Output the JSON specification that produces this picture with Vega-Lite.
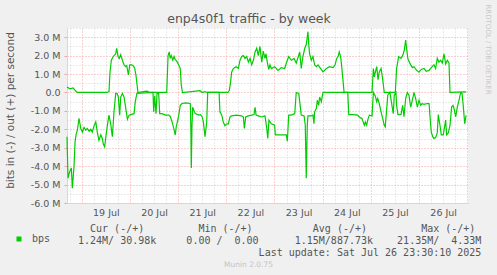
{
"$schema": "https://vega.github.io/schema/vega-lite/v6.json",
"width": 401, "height": 175,
"autosize": {"type": "none"},
"padding": {"left": 67, "top": 28, "right": 29, "bottom": 72},
"background": "#F0F0F0",
"config": {"view": {"fill": "#FFFFFF", "stroke": null}, "font": "DejaVu Sans"},
"title": {"text": "enp4s0f1 traffic - by week", "frame": "group", "anchor": "middle", "dx": -18.5, "font": "DejaVu Sans", "fontSize": 12.5, "fontWeight": "normal", "color": "#555555", "baseline": "alphabetic", "offset": -32},
"datasets": {
"out": [
{"time":"2025-07-18T16:40:00Z","value":0.3},{"time":"2025-07-18T18:10:00Z","value":0.2},{"time":"2025-07-18T19:40:00Z","value":0.25},{"time":"2025-07-18T21:40:00Z","value":0},
{"time":"2025-07-19T12:35:00Z","value":0},{"time":"2025-07-19T13:35:00Z","value":0.05},{"time":"2025-07-19T14:05:00Z","value":1.1},{"time":"2025-07-19T14:45:00Z","value":1.75},{"time":"2025-07-19T15:25:00Z","value":1.9},{"time":"2025-07-19T16:05:00Z","value":2.0},{"time":"2025-07-19T16:55:00Z","value":2.1},{"time":"2025-07-19T17:25:00Z","value":2.4},{"time":"2025-07-19T18:05:00Z","value":1.95},{"time":"2025-07-19T18:45:00Z","value":1.85},{"time":"2025-07-19T19:25:00Z","value":2.05},{"time":"2025-07-19T20:15:00Z","value":1.75},{"time":"2025-07-19T21:05:00Z","value":1.5},{"time":"2025-07-19T21:55:00Z","value":1.4},{"time":"2025-07-19T22:25:00Z","value":1.45},{"time":"2025-07-19T23:15:00Z","value":0.95},{"time":"2025-07-19T23:55:00Z","value":1.5},
{"time":"2025-07-20T00:55:00Z","value":1.5},{"time":"2025-07-20T01:40:00Z","value":1.45},{"time":"2025-07-20T02:25:00Z","value":1.3},{"time":"2025-07-20T03:00:00Z","value":0.95},{"time":"2025-07-20T04:00:00Z","value":0},{"time":"2025-07-20T06:30:00Z","value":0.05},{"time":"2025-07-20T08:30:00Z","value":0.07},{"time":"2025-07-20T10:00:00Z","value":0},{"time":"2025-07-20T18:20:00Z","value":0},{"time":"2025-07-20T19:00:00Z","value":2.0},{"time":"2025-07-20T19:35:00Z","value":2.2},{"time":"2025-07-20T20:05:00Z","value":1.85},{"time":"2025-07-20T20:35:00Z","value":2.0},{"time":"2025-07-20T21:20:00Z","value":1.75},{"time":"2025-07-20T22:00:00Z","value":1.95},{"time":"2025-07-20T22:30:00Z","value":1.8},{"time":"2025-07-20T23:20:00Z","value":1.7},
{"time":"2025-07-21T00:15:00Z","value":1.5},{"time":"2025-07-21T01:05:00Z","value":1.3},{"time":"2025-07-21T01:35:00Z","value":0.4},{"time":"2025-07-21T02:10:00Z","value":0},{"time":"2025-07-21T10:55:00Z","value":0.1},{"time":"2025-07-21T11:55:00Z","value":0},{"time":"2025-07-21T13:25:00Z","value":0.05},{"time":"2025-07-21T14:25:00Z","value":0},
{"time":"2025-07-22T00:50:00Z","value":0},{"time":"2025-07-22T01:30:00Z","value":0.1},{"time":"2025-07-22T02:10:00Z","value":0.6},{"time":"2025-07-22T02:40:00Z","value":1.1},{"time":"2025-07-22T03:30:00Z","value":1.3},{"time":"2025-07-22T04:50:00Z","value":1.4},{"time":"2025-07-22T06:00:00Z","value":1.3},{"time":"2025-07-22T06:50:00Z","value":1.75},{"time":"2025-07-22T07:40:00Z","value":1.95},{"time":"2025-07-22T08:30:00Z","value":2.0},{"time":"2025-07-22T09:20:00Z","value":1.85},{"time":"2025-07-22T10:10:00Z","value":1.95},{"time":"2025-07-22T11:00:00Z","value":1.65},{"time":"2025-07-22T11:50:00Z","value":1.85},{"time":"2025-07-22T12:40:00Z","value":1.5},{"time":"2025-07-22T13:30:00Z","value":1.75},{"time":"2025-07-22T14:20:00Z","value":2.2},{"time":"2025-07-22T15:10:00Z","value":2.4},{"time":"2025-07-22T15:55:00Z","value":2.0},{"time":"2025-07-22T16:45:00Z","value":2.5},{"time":"2025-07-22T17:40:00Z","value":1.65},{"time":"2025-07-22T18:25:00Z","value":2.25},{"time":"2025-07-22T19:15:00Z","value":1.85},{"time":"2025-07-22T19:45:00Z","value":2.1},{"time":"2025-07-22T20:40:00Z","value":1.5},{"time":"2025-07-22T21:10:00Z","value":1.25},{"time":"2025-07-22T21:45:00Z","value":1.5},{"time":"2025-07-22T22:25:00Z","value":1.3},
{"time":"2025-07-23T00:05:00Z","value":1.4},{"time":"2025-07-23T01:45:00Z","value":1.2},{"time":"2025-07-23T03:25:00Z","value":1.35},{"time":"2025-07-23T05:05:00Z","value":1.3},{"time":"2025-07-23T05:55:00Z","value":1.6},{"time":"2025-07-23T07:05:00Z","value":1.95},{"time":"2025-07-23T08:25:00Z","value":1.75},{"time":"2025-07-23T09:45:00Z","value":1.85},{"time":"2025-07-23T10:50:00Z","value":1.6},{"time":"2025-07-23T12:35:00Z","value":2.2},{"time":"2025-07-23T13:20:00Z","value":1.3},{"time":"2025-07-23T14:10:00Z","value":1.95},{"time":"2025-07-23T15:05:00Z","value":2.4},{"time":"2025-07-23T15:50:00Z","value":2.6},{"time":"2025-07-23T16:40:00Z","value":3.3},{"time":"2025-07-23T17:05:00Z","value":2.6},{"time":"2025-07-23T17:30:00Z","value":2.1},{"time":"2025-07-23T18:20:00Z","value":1.75},{"time":"2025-07-23T19:10:00Z","value":1.95},{"time":"2025-07-23T20:00:00Z","value":1.5},{"time":"2025-07-23T20:50:00Z","value":1.4},{"time":"2025-07-23T21:40:00Z","value":1.5},{"time":"2025-07-23T23:00:00Z","value":1.3},
{"time":"2025-07-24T00:10:00Z","value":1.12},{"time":"2025-07-24T01:50:00Z","value":1.3},{"time":"2025-07-24T03:30:00Z","value":1.4},{"time":"2025-07-24T05:10:00Z","value":1.35},{"time":"2025-07-24T06:10:00Z","value":1.5},{"time":"2025-07-24T07:00:00Z","value":1.85},{"time":"2025-07-24T07:40:00Z","value":1.95},{"time":"2025-07-24T08:15:00Z","value":2.2},{"time":"2025-07-24T09:00:00Z","value":1.9},{"time":"2025-07-24T09:30:00Z","value":1.4},{"time":"2025-07-24T10:10:00Z","value":0.6},{"time":"2025-07-24T10:40:00Z","value":0},
{"time":"2025-07-25T00:35:00Z","value":0},{"time":"2025-07-25T01:15:00Z","value":1.3},{"time":"2025-07-25T01:45:00Z","value":0.85},{"time":"2025-07-25T02:15:00Z","value":1.1},{"time":"2025-07-25T02:55:00Z","value":1.4},{"time":"2025-07-25T03:35:00Z","value":0.7},{"time":"2025-07-25T04:10:00Z","value":1.1},{"time":"2025-07-25T05:05:00Z","value":1.3},{"time":"2025-07-25T05:55:00Z","value":0.7},{"time":"2025-07-25T06:40:00Z","value":0},{"time":"2025-07-25T12:10:00Z","value":0},{"time":"2025-07-25T12:50:00Z","value":1.3},{"time":"2025-07-25T13:50:00Z","value":1.95},{"time":"2025-07-25T15:00:00Z","value":1.85},{"time":"2025-07-25T15:50:00Z","value":2.0},{"time":"2025-07-25T16:40:00Z","value":2.3},{"time":"2025-07-25T17:20:00Z","value":2.85},{"time":"2025-07-25T18:00:00Z","value":2.2},{"time":"2025-07-25T18:30:00Z","value":1.8},{"time":"2025-07-25T19:50:00Z","value":1.5},{"time":"2025-07-25T20:40:00Z","value":1.35},{"time":"2025-07-25T21:30:00Z","value":1.4},{"time":"2025-07-25T22:50:00Z","value":1.2},
{"time":"2025-07-26T00:00:00Z","value":1.1},{"time":"2025-07-26T01:05:00Z","value":1.25},{"time":"2025-07-26T02:30:00Z","value":1.3},{"time":"2025-07-26T03:35:00Z","value":1.15},{"time":"2025-07-26T05:00:00Z","value":1.2},{"time":"2025-07-26T06:05:00Z","value":1.35},{"time":"2025-07-26T07:25:00Z","value":1.5},{"time":"2025-07-26T08:15:00Z","value":1.3},{"time":"2025-07-26T09:05:00Z","value":1.85},{"time":"2025-07-26T09:55:00Z","value":1.65},{"time":"2025-07-26T10:45:00Z","value":1.75},{"time":"2025-07-26T11:35:00Z","value":1.6},{"time":"2025-07-26T12:25:00Z","value":2.1},{"time":"2025-07-26T13:15:00Z","value":1.55},{"time":"2025-07-26T14:05:00Z","value":1.75},{"time":"2025-07-26T14:55:00Z","value":1.6},{"time":"2025-07-26T15:25:00Z","value":0},{"time":"2025-07-26T23:25:00Z","value":0.03}
],
"in": [
{"time":"2025-07-18T16:40:00Z","value":-2.4},{"time":"2025-07-18T17:10:00Z","value":-4.65},{"time":"2025-07-18T18:00:00Z","value":-4.3},{"time":"2025-07-18T18:50:00Z","value":-4.1},{"time":"2025-07-18T19:20:00Z","value":-5.2},{"time":"2025-07-18T20:10:00Z","value":-4.0},{"time":"2025-07-18T20:40:00Z","value":-2.7},{"time":"2025-07-18T21:10:00Z","value":-2.3},{"time":"2025-07-18T21:50:00Z","value":-2.05},{"time":"2025-07-18T22:40:00Z","value":-1.4},{"time":"2025-07-18T23:30:00Z","value":-1.95},
{"time":"2025-07-19T00:20:00Z","value":-2.15},{"time":"2025-07-19T01:10:00Z","value":-1.9},{"time":"2025-07-19T02:00:00Z","value":-2.05},{"time":"2025-07-19T02:45:00Z","value":-1.95},{"time":"2025-07-19T03:40:00Z","value":-2.1},{"time":"2025-07-19T04:30:00Z","value":-2.0},{"time":"2025-07-19T05:15:00Z","value":-2.15},{"time":"2025-07-19T06:10:00Z","value":-1.8},{"time":"2025-07-19T07:00:00Z","value":-1.6},{"time":"2025-07-19T07:45:00Z","value":-2.15},{"time":"2025-07-19T08:35:00Z","value":-2.6},{"time":"2025-07-19T09:30:00Z","value":-2.3},{"time":"2025-07-19T10:15:00Z","value":-2.5},{"time":"2025-07-19T10:45:00Z","value":-2.8},{"time":"2025-07-19T11:25:00Z","value":-2.95},{"time":"2025-07-19T12:05:00Z","value":-2.35},{"time":"2025-07-19T12:45:00Z","value":-1.8},{"time":"2025-07-19T13:35:00Z","value":-1.23},{"time":"2025-07-19T14:25:00Z","value":-1.7},{"time":"2025-07-19T15:15:00Z","value":-2.4},{"time":"2025-07-19T16:05:00Z","value":-1.05},{"time":"2025-07-19T16:55:00Z","value":-0.05},{"time":"2025-07-19T17:35:00Z","value":-0.05},{"time":"2025-07-19T18:15:00Z","value":-0.25},{"time":"2025-07-19T18:55:00Z","value":-1.23},{"time":"2025-07-19T19:25:00Z","value":-0.25},{"time":"2025-07-19T20:15:00Z","value":-0.05},{"time":"2025-07-19T21:05:00Z","value":-0.25},{"time":"2025-07-19T21:55:00Z","value":-0.85},{"time":"2025-07-19T22:45:00Z","value":-1.45},{"time":"2025-07-19T23:35:00Z","value":-1.23},
{"time":"2025-07-20T00:25:00Z","value":-1.2},{"time":"2025-07-20T02:05:00Z","value":-1.15},{"time":"2025-07-20T02:40:00Z","value":-0.5},{"time":"2025-07-20T03:30:00Z","value":-0.05},{"time":"2025-07-20T11:30:00Z","value":0},{"time":"2025-07-20T11:50:00Z","value":-1.05},{"time":"2025-07-20T12:20:00Z","value":-0.2},{"time":"2025-07-20T13:00:00Z","value":-1.15},{"time":"2025-07-20T13:30:00Z","value":-0.05},{"time":"2025-07-20T14:20:00Z","value":-0.05},{"time":"2025-07-20T14:50:00Z","value":-1.15},{"time":"2025-07-20T16:00:00Z","value":-1.15},{"time":"2025-07-20T17:40:00Z","value":-1.23},{"time":"2025-07-20T19:20:00Z","value":-1.23},{"time":"2025-07-20T20:05:00Z","value":-1.3},{"time":"2025-07-20T21:00:00Z","value":-1.6},{"time":"2025-07-20T21:50:00Z","value":-1.95},{"time":"2025-07-20T22:35:00Z","value":-2.3},{"time":"2025-07-20T23:05:00Z","value":-1.85},{"time":"2025-07-20T23:50:00Z","value":-1.5},
{"time":"2025-07-21T00:20:00Z","value":-1.23},{"time":"2025-07-21T01:05:00Z","value":-0.7},{"time":"2025-07-21T01:55:00Z","value":-0.6},{"time":"2025-07-21T03:35:00Z","value":-0.57},{"time":"2025-07-21T06:05:00Z","value":-0.6},{"time":"2025-07-21T06:25:00Z","value":-2.3},{"time":"2025-07-21T06:35:00Z","value":-4.1},{"time":"2025-07-21T06:55:00Z","value":-1.8},{"time":"2025-07-21T07:15:00Z","value":-0.8},{"time":"2025-07-21T07:45:00Z","value":-0.95},{"time":"2025-07-21T08:35:00Z","value":-1.15},{"time":"2025-07-21T10:15:00Z","value":-1.23},{"time":"2025-07-21T11:05:00Z","value":-1.2},{"time":"2025-07-21T11:55:00Z","value":-1.3},{"time":"2025-07-21T12:35:00Z","value":-1.6},{"time":"2025-07-21T13:25:00Z","value":-2.4},{"time":"2025-07-21T14:15:00Z","value":-1.6},{"time":"2025-07-21T14:45:00Z","value":0},{"time":"2025-07-21T20:25:00Z","value":0},{"time":"2025-07-21T20:50:00Z","value":-1.05},{"time":"2025-07-21T21:45:00Z","value":-1.23},{"time":"2025-07-21T22:30:00Z","value":-1.6},{"time":"2025-07-21T23:20:00Z","value":-1.8},
{"time":"2025-07-22T00:15:00Z","value":-1.7},{"time":"2025-07-22T01:00:00Z","value":-1.7},{"time":"2025-07-22T01:50:00Z","value":-1.33},{"time":"2025-07-22T02:40:00Z","value":-1.27},{"time":"2025-07-22T05:10:00Z","value":-1.23},{"time":"2025-07-22T07:40:00Z","value":-1.27},{"time":"2025-07-22T08:30:00Z","value":-1.33},{"time":"2025-07-22T09:00:00Z","value":-1.95},{"time":"2025-07-22T09:40:00Z","value":-1.33},{"time":"2025-07-22T11:00:00Z","value":-1.27},{"time":"2025-07-22T12:40:00Z","value":-1.23},{"time":"2025-07-22T13:50:00Z","value":-1.2},{"time":"2025-07-22T14:20:00Z","value":-0.8},{"time":"2025-07-22T14:50:00Z","value":-1.23},{"time":"2025-07-22T15:55:00Z","value":-1.27},{"time":"2025-07-22T17:40:00Z","value":-1.33},{"time":"2025-07-22T19:15:00Z","value":-1.27},{"time":"2025-07-22T20:10:00Z","value":-1.95},{"time":"2025-07-22T20:40:00Z","value":-2.5},{"time":"2025-07-22T21:15:00Z","value":-1.5},{"time":"2025-07-22T22:25:00Z","value":-1.7},
{"time":"2025-07-23T00:05:00Z","value":-1.78},{"time":"2025-07-23T00:25:00Z","value":-2.3},{"time":"2025-07-23T02:45:00Z","value":-2.3},{"time":"2025-07-23T05:55:00Z","value":-2.3},{"time":"2025-07-23T06:25:00Z","value":-2.65},{"time":"2025-07-23T07:05:00Z","value":-1.23},{"time":"2025-07-23T08:25:00Z","value":-1.23},{"time":"2025-07-23T10:05:00Z","value":-1.15},{"time":"2025-07-23T10:50:00Z","value":0},{"time":"2025-07-23T12:05:00Z","value":-0.05},{"time":"2025-07-23T12:35:00Z","value":-0.5},{"time":"2025-07-23T13:20:00Z","value":-1.23},{"time":"2025-07-23T14:45:00Z","value":-1.27},{"time":"2025-07-23T15:20:00Z","value":-1.78},{"time":"2025-07-23T15:50:00Z","value":-4.65},{"time":"2025-07-23T16:20:00Z","value":-1.78},{"time":"2025-07-23T16:40:00Z","value":-1.27},{"time":"2025-07-23T18:05:00Z","value":-1.27},{"time":"2025-07-23T19:10:00Z","value":-1.23},{"time":"2025-07-23T19:40:00Z","value":-1.7},{"time":"2025-07-23T20:00:00Z","value":-1.05},{"time":"2025-07-23T20:50:00Z","value":-0.87},{"time":"2025-07-23T21:20:00Z","value":-0.42},{"time":"2025-07-23T22:00:00Z","value":-0.7},{"time":"2025-07-23T22:30:00Z","value":-0.25},{"time":"2025-07-23T23:20:00Z","value":-0.5},
{"time":"2025-07-24T00:10:00Z","value":0},{"time":"2025-07-24T12:30:00Z","value":0},{"time":"2025-07-24T13:00:00Z","value":-1.2},{"time":"2025-07-24T15:05:00Z","value":-1.2},{"time":"2025-07-24T17:25:00Z","value":-1.23},{"time":"2025-07-24T18:15:00Z","value":-1.33},{"time":"2025-07-24T19:35:00Z","value":-1.42},{"time":"2025-07-24T20:45:00Z","value":-1.78},{"time":"2025-07-24T21:15:00Z","value":-1.6},{"time":"2025-07-24T21:55:00Z","value":-1.78},{"time":"2025-07-24T22:25:00Z","value":-1.5},{"time":"2025-07-24T23:15:00Z","value":-1.23},
{"time":"2025-07-25T00:35:00Z","value":-1.27},{"time":"2025-07-25T01:15:00Z","value":0},{"time":"2025-07-25T02:15:00Z","value":-0.2},{"time":"2025-07-25T02:55:00Z","value":-0.5},{"time":"2025-07-25T03:25:00Z","value":-0.33},{"time":"2025-07-25T04:10:00Z","value":-0.6},{"time":"2025-07-25T05:05:00Z","value":-1.05},{"time":"2025-07-25T05:55:00Z","value":-1.42},{"time":"2025-07-25T06:40:00Z","value":-1.78},{"time":"2025-07-25T07:10:00Z","value":-1.87},{"time":"2025-07-25T07:55:00Z","value":-0.87},{"time":"2025-07-25T08:25:00Z","value":-0.15},{"time":"2025-07-25T09:30:00Z","value":0},{"time":"2025-07-25T10:30:00Z","value":-0.7},{"time":"2025-07-25T11:10:00Z","value":-1.15},{"time":"2025-07-25T11:40:00Z","value":-0.15},{"time":"2025-07-25T12:30:00Z","value":0},{"time":"2025-07-25T12:50:00Z","value":-0.7},{"time":"2025-07-25T13:30:00Z","value":-1.2},{"time":"2025-07-25T15:00:00Z","value":-1.2},{"time":"2025-07-25T15:50:00Z","value":-0.7},{"time":"2025-07-25T16:30:00Z","value":-1.32},{"time":"2025-07-25T17:20:00Z","value":-0.33},{"time":"2025-07-25T18:10:00Z","value":0},{"time":"2025-07-25T19:00:00Z","value":-0.15},{"time":"2025-07-25T19:50:00Z","value":-0.8},{"time":"2025-07-25T20:40:00Z","value":-0.42},{"time":"2025-07-25T21:30:00Z","value":0},{"time":"2025-07-25T22:20:00Z","value":-0.33},{"time":"2025-07-25T23:10:00Z","value":-0.8},
{"time":"2025-07-26T00:00:00Z","value":-0.42},{"time":"2025-07-26T00:50:00Z","value":-0.7},{"time":"2025-07-26T01:35:00Z","value":-0.6},{"time":"2025-07-26T02:30:00Z","value":-0.65},{"time":"2025-07-26T04:05:00Z","value":-0.6},{"time":"2025-07-26T05:00:00Z","value":-0.6},{"time":"2025-07-26T05:25:00Z","value":-1.23},{"time":"2025-07-26T06:05:00Z","value":-2.15},{"time":"2025-07-26T06:50:00Z","value":-2.4},{"time":"2025-07-26T07:25:00Z","value":-2.5},{"time":"2025-07-26T08:15:00Z","value":-2.45},{"time":"2025-07-26T09:05:00Z","value":-2.2},{"time":"2025-07-26T09:35:00Z","value":-1.2},{"time":"2025-07-26T10:25:00Z","value":-1.78},{"time":"2025-07-26T11:05:00Z","value":-2.3},{"time":"2025-07-26T12:05:00Z","value":-2.3},{"time":"2025-07-26T13:15:00Z","value":-1.5},{"time":"2025-07-26T13:45:00Z","value":-2.3},{"time":"2025-07-26T14:35:00Z","value":-2.2},{"time":"2025-07-26T15:25:00Z","value":-1.78},{"time":"2025-07-26T16:15:00Z","value":-0.78},{"time":"2025-07-26T16:55:00Z","value":-0.7},{"time":"2025-07-26T17:25:00Z","value":-0.87},{"time":"2025-07-26T18:15:00Z","value":-1.32},{"time":"2025-07-26T19:05:00Z","value":-0.78},{"time":"2025-07-26T19:55:00Z","value":-0.42},{"time":"2025-07-26T20:45:00Z","value":0},{"time":"2025-07-26T21:25:00Z","value":-0.05},{"time":"2025-07-26T22:00:00Z","value":-0.7},{"time":"2025-07-26T22:45:00Z","value":-1.7},{"time":"2025-07-26T23:25:00Z","value":-1.24}
]
},
"resolve": {"axis": {"x": "independent", "y": "independent"}},
"layer": [
{
"data": {"name": "out"},
"mark": {"type": "line", "strokeWidth": 1.2},
"encoding": {
"x": {"field": "time", "type": "temporal",
"scale": {"type": "utc", "domain": ["2025-07-18T16:40:00Z", "2025-07-27T00:23:00Z"]},
"axis": {"orient": "bottom",
"values": ["2025-07-18T18:00:00Z","2025-07-19T00:00:00Z","2025-07-19T06:00:00Z","2025-07-19T12:00:00Z","2025-07-19T18:00:00Z","2025-07-20T00:00:00Z","2025-07-20T06:00:00Z","2025-07-20T12:00:00Z","2025-07-20T18:00:00Z","2025-07-21T00:00:00Z","2025-07-21T06:00:00Z","2025-07-21T12:00:00Z","2025-07-21T18:00:00Z","2025-07-22T00:00:00Z","2025-07-22T06:00:00Z","2025-07-22T12:00:00Z","2025-07-22T18:00:00Z","2025-07-23T00:00:00Z","2025-07-23T06:00:00Z","2025-07-23T12:00:00Z","2025-07-23T18:00:00Z","2025-07-24T00:00:00Z","2025-07-24T06:00:00Z","2025-07-24T12:00:00Z","2025-07-24T18:00:00Z","2025-07-25T00:00:00Z","2025-07-25T06:00:00Z","2025-07-25T12:00:00Z","2025-07-25T18:00:00Z","2025-07-26T00:00:00Z","2025-07-26T06:00:00Z","2025-07-26T12:00:00Z","2025-07-26T18:00:00Z","2025-07-27T00:00:00Z"],
"labelExpr": "utchours(datum.value) == 12 ? utcFormat(datum.value, '%d %b') : ''",
"labelFont": "DejaVu Sans", "labelFontSize": 9.5, "labelColor": "#555555", "labelPadding": 4, "labelFlush": false, "labelOverlap": false,
"ticks": false,
"grid": true, "gridDash": [1, 2], "gridWidth": 1,
"gridColor": {"condition": {"test": "utchours(datum.value) == 0", "value": "#F4A0A0"}, "value": "#D4D4D4"},
"domainColor": "#CFD6F8", "domainWidth": 1,
"title": ["\u200b\u00a0\u00a0Cur (-/+)\u00a0\u00a0\u00a0\u00a0\u00a0\u00a0\u00a0\u00a0\u00a0Min (-/+)\u00a0\u00a0\u00a0\u00a0\u00a0\u00a0\u00a0\u00a0\u00a0\u00a0Avg (-/+)\u00a0\u00a0\u00a0\u00a0\u00a0\u00a0\u00a0\u00a0\u00a0Max (-/+)",
"1.24M/\u00a030.98k\u00a0\u00a0\u00a0\u00a0\u00a00.00 /\u00a0\u00a00.00\u00a0\u00a0\u00a0\u00a0\u00a0\u00a01.15M/887.73k\u00a0\u00a0\u00a0\u00a021.35M/\u00a0\u00a04.33M",
"\u200b\u00a0\u00a0\u00a0\u00a0\u00a0\u00a0\u00a0\u00a0\u00a0\u00a0\u00a0\u00a0\u00a0\u00a0\u00a0\u00a0\u00a0\u00a0\u00a0\u00a0\u00a0\u00a0\u00a0\u00a0\u00a0\u00a0\u00a0\u00a0\u00a0\u00a0Last update: Sat Jul 26 23:30:10 2025"],
"titleFont": "DejaVu Sans Mono", "titleFontSize": 10, "titleFontWeight": "normal", "titleColor": "#555555",
"titleAlign": "left", "titleBaseline": "alphabetic", "titleX": 10.5, "titleY": 28.4, "titleLineHeight": 12}},
"y": {"field": "value", "type": "quantitative",
"scale": {"domain": [-6, 3.5], "nice": false, "zero": false},
"axis": {"orient": "left", "values": [-6,-5.5,-5,-4.5,-4,-3.5,-3,-2.5,-2,-1.5,-1,-0.5,0,0.5,1,1.5,2,2.5,3,3.5],
"labelExpr": "datum.value % 1 != 0 ? '' : datum.value == 0 ? '0.0\u00a0\u00a0' : (datum.value < 0 ? '-' : '') + format(abs(datum.value), '.1f') + ' M'",
"labelFont": "DejaVu Sans", "labelFontSize": 9.5, "labelColor": "#555555", "labelPadding": 4,
"ticks": true, "tickSize": 3,
"tickColor": {"condition": {"test": "datum.value % 1 == 0", "value": "#F4A0A0"}, "value": "transparent"},
"grid": true, "gridDash": [1, 2], "gridWidth": 1,
"gridColor": {"condition": {"test": "datum.value % 1 == 0", "value": "#F4A0A0"}, "value": "#D4D4D4"},
"domainColor": "#CFD6F8", "domainWidth": 1,
"title": "bits in (-) / out (+) per second", "titleFont": "DejaVu Sans", "titleFontSize": 10.5, "titleFontWeight": "normal", "titleColor": "#555555",
"titleAngle": -90, "titleAlign": "center", "titleBaseline": "middle", "titleX": -56.5, "titleY": 82}},
"color": {"datum": "bps", "scale": {"range": ["#00CC00"]},
"legend": {"orient": "none", "legendX": -53, "legendY": 206, "title": null, "padding": 0,
"symbolType": "square", "symbolSize": 25, "symbolFillColor": "#00CC00", "symbolStrokeColor": "#00CC00", "symbolStrokeWidth": 0,
"labelFont": "DejaVu Sans Mono", "labelFontSize": 10, "labelColor": "#555555", "labelOffset": 8}}
}
},
{
"data": {"name": "in"},
"mark": {"type": "line", "strokeWidth": 1.2},
"encoding": {
"x": {"field": "time", "type": "temporal", "scale": {"type": "utc", "domain": ["2025-07-18T16:40:00Z", "2025-07-27T00:23:00Z"]},
"axis": {"orient": "top", "labels": false, "ticks": false, "domain": false, "grid": false,
"title": "Munin 2.0.75", "titleFont": "DejaVu Sans", "titleFontSize": 7.5, "titleFontWeight": "normal", "titleColor": "#C4C4C4",
"titleAlign": "center", "titleBaseline": "middle", "titleX": 181, "titleY": 236}},
"y": {"field": "value", "type": "quantitative", "scale": {"domain": [-6, 3.5], "nice": false, "zero": false},
"axis": {"orient": "right", "labels": false, "ticks": false, "domain": false, "grid": false,
"title": "RRDTOOL / TOBI OETIKER", "titleFont": "DejaVu Sans", "titleFontSize": 7, "titleFontWeight": "normal", "titleColor": "#C8C8C8",
"titleAngle": 90, "titleAlign": "center", "titleBaseline": "middle", "titleX": 19, "titleY": 21}},
"color": {"datum": "bps"}
}
},
{
"mark": {"type": "rule", "color": "#000000", "strokeWidth": 1},
"encoding": {
"y": {"datum": 0, "type": "quantitative", "scale": {"domain": [-6, 3.5], "nice": false, "zero": false}, "axis": null}
}
},
{
"mark": {"type": "point", "shape": "triangle-up", "filled": true, "color": "#CFD6F8", "opacity": 1, "size": 30, "yOffset": -4},
"encoding": {
"x": {"datum": "2025-07-18T16:40:00Z", "type": "temporal", "scale": {"type": "utc", "domain": ["2025-07-18T16:40:00Z", "2025-07-27T00:23:00Z"]}, "axis": null},
"y": {"datum": 3.5, "type": "quantitative", "scale": {"domain": [-6, 3.5], "nice": false, "zero": false}, "axis": null}
}
},
{
"mark": {"type": "point", "shape": "triangle-right", "filled": true, "color": "#CFD6F8", "opacity": 1, "size": 30, "xOffset": 3},
"encoding": {
"x": {"datum": "2025-07-27T00:23:00Z", "type": "temporal", "scale": {"type": "utc", "domain": ["2025-07-18T16:40:00Z", "2025-07-27T00:23:00Z"]}, "axis": null},
"y": {"datum": -6, "type": "quantitative", "scale": {"domain": [-6, 3.5], "nice": false, "zero": false}, "axis": null}
}
}
]
}
